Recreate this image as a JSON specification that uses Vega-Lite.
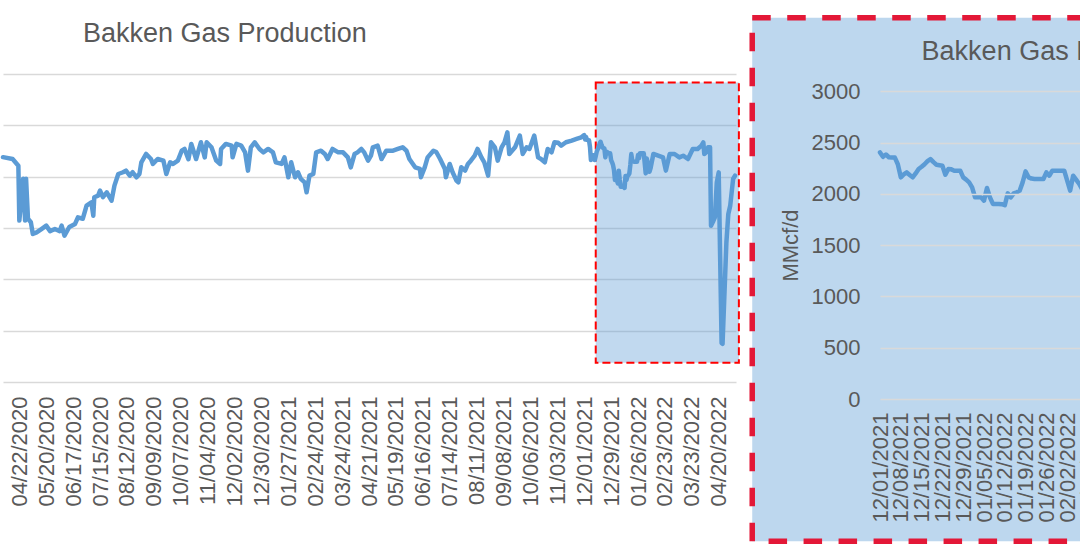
{
  "$schema": "https://vega.github.io/schema/vega-lite/v6.json",
  "background": "white",
  "padding": {"left": 0, "top": 14, "right": 0, "bottom": 0},
  "spacing": 9,
  "config": {
    "font": "Liberation Sans",
    "view": {"stroke": null},
    "axis": {"labelColor": "#595959", "titleColor": "#595959", "labelFont": "Liberation Sans", "titleFont": "Liberation Sans"},
    "axisX": {"orient": "bottom", "title": null, "grid": false, "domain": false, "ticks": false, "tickSize": 0, "labelAngle": 270, "labelAlign": "right", "labelBaseline": "middle", "labelFontSize": 22, "labelOverlap": false, "labelFlush": false, "labelBound": false, "format": "%m/%d/%Y"},
    "title": {"color": "#595959", "fontSize": 27, "fontWeight": "normal", "font": "Liberation Sans", "anchor": "start", "frame": "group"}
  },
  "datasets": {
    "gas": [
      {"date": "2020-04-05", "v": 2190}, {"date": "2020-04-15", "v": 2172}, {"date": "2020-04-21", "v": 2107},
      {"date": "2020-04-22", "v": 1572}, {"date": "2020-04-26", "v": 1980}, {"date": "2020-04-28", "v": 1572},
      {"date": "2020-04-29", "v": 1980}, {"date": "2020-05-01", "v": 1590}, {"date": "2020-05-04", "v": 1556},
      {"date": "2020-05-06", "v": 1442}, {"date": "2020-05-10", "v": 1458}, {"date": "2020-05-15", "v": 1490},
      {"date": "2020-05-20", "v": 1523}, {"date": "2020-05-24", "v": 1470}, {"date": "2020-05-29", "v": 1490},
      {"date": "2020-06-03", "v": 1470}, {"date": "2020-06-05", "v": 1523}, {"date": "2020-06-08", "v": 1426},
      {"date": "2020-06-13", "v": 1510}, {"date": "2020-06-19", "v": 1540}, {"date": "2020-06-22", "v": 1604},
      {"date": "2020-06-27", "v": 1590}, {"date": "2020-07-01", "v": 1718}, {"date": "2020-07-06", "v": 1750},
      {"date": "2020-07-08", "v": 1620}, {"date": "2020-07-09", "v": 1799}, {"date": "2020-07-13", "v": 1815},
      {"date": "2020-07-15", "v": 1864}, {"date": "2020-07-18", "v": 1800}, {"date": "2020-07-22", "v": 1848},
      {"date": "2020-07-27", "v": 1766}, {"date": "2020-07-30", "v": 1913}, {"date": "2020-08-03", "v": 2026},
      {"date": "2020-08-08", "v": 2043}, {"date": "2020-08-11", "v": 2059}, {"date": "2020-08-15", "v": 2010},
      {"date": "2020-08-18", "v": 2043}, {"date": "2020-08-22", "v": 1994}, {"date": "2020-08-25", "v": 2026},
      {"date": "2020-08-27", "v": 2140}, {"date": "2020-09-01", "v": 2221}, {"date": "2020-09-06", "v": 2172},
      {"date": "2020-09-08", "v": 2124}, {"date": "2020-09-13", "v": 2172}, {"date": "2020-09-19", "v": 2156},
      {"date": "2020-09-22", "v": 2026}, {"date": "2020-09-26", "v": 2140}, {"date": "2020-09-29", "v": 2124},
      {"date": "2020-10-04", "v": 2156}, {"date": "2020-10-08", "v": 2253}, {"date": "2020-10-11", "v": 2270},
      {"date": "2020-10-15", "v": 2170}, {"date": "2020-10-18", "v": 2319}, {"date": "2020-10-23", "v": 2172},
      {"date": "2020-10-28", "v": 2335}, {"date": "2020-11-01", "v": 2188}, {"date": "2020-11-03", "v": 2335},
      {"date": "2020-11-08", "v": 2286}, {"date": "2020-11-13", "v": 2156}, {"date": "2020-11-17", "v": 2124},
      {"date": "2020-11-18", "v": 2270}, {"date": "2020-11-23", "v": 2319}, {"date": "2020-11-29", "v": 2302},
      {"date": "2020-11-30", "v": 2188}, {"date": "2020-12-04", "v": 2319}, {"date": "2020-12-09", "v": 2302},
      {"date": "2020-12-13", "v": 2237}, {"date": "2020-12-16", "v": 2059}, {"date": "2020-12-19", "v": 2286},
      {"date": "2020-12-23", "v": 2335}, {"date": "2020-12-28", "v": 2270}, {"date": "2021-01-01", "v": 2237},
      {"date": "2021-01-06", "v": 2270}, {"date": "2021-01-11", "v": 2237}, {"date": "2021-01-14", "v": 2140},
      {"date": "2021-01-20", "v": 2124}, {"date": "2021-01-23", "v": 2188}, {"date": "2021-01-27", "v": 1994},
      {"date": "2021-01-30", "v": 2140}, {"date": "2021-02-03", "v": 1994}, {"date": "2021-02-06", "v": 2043},
      {"date": "2021-02-09", "v": 1978}, {"date": "2021-02-13", "v": 1945}, {"date": "2021-02-15", "v": 1848},
      {"date": "2021-02-18", "v": 2010}, {"date": "2021-02-22", "v": 2026}, {"date": "2021-02-25", "v": 2237},
      {"date": "2021-03-02", "v": 2253}, {"date": "2021-03-06", "v": 2221}, {"date": "2021-03-09", "v": 2172},
      {"date": "2021-03-14", "v": 2270}, {"date": "2021-03-20", "v": 2237}, {"date": "2021-03-25", "v": 2237},
      {"date": "2021-03-30", "v": 2188}, {"date": "2021-04-02", "v": 2091}, {"date": "2021-04-06", "v": 2221},
      {"date": "2021-04-09", "v": 2237}, {"date": "2021-04-13", "v": 2270}, {"date": "2021-04-16", "v": 2237},
      {"date": "2021-04-20", "v": 2156}, {"date": "2021-04-23", "v": 2204}, {"date": "2021-04-25", "v": 2286},
      {"date": "2021-04-30", "v": 2302}, {"date": "2021-05-04", "v": 2172}, {"date": "2021-05-09", "v": 2253},
      {"date": "2021-05-16", "v": 2253}, {"date": "2021-05-21", "v": 2270}, {"date": "2021-05-26", "v": 2286},
      {"date": "2021-05-30", "v": 2253}, {"date": "2021-06-02", "v": 2172}, {"date": "2021-06-08", "v": 2091},
      {"date": "2021-06-13", "v": 2075}, {"date": "2021-06-14", "v": 1994}, {"date": "2021-06-18", "v": 2091},
      {"date": "2021-06-21", "v": 2188}, {"date": "2021-06-27", "v": 2253}, {"date": "2021-06-30", "v": 2240},
      {"date": "2021-07-04", "v": 2172}, {"date": "2021-07-09", "v": 2075}, {"date": "2021-07-10", "v": 1994},
      {"date": "2021-07-14", "v": 2124}, {"date": "2021-07-17", "v": 2043}, {"date": "2021-07-21", "v": 1962},
      {"date": "2021-07-23", "v": 1945}, {"date": "2021-07-26", "v": 2091}, {"date": "2021-07-30", "v": 2059},
      {"date": "2021-08-02", "v": 2124}, {"date": "2021-08-05", "v": 2156}, {"date": "2021-08-09", "v": 2204},
      {"date": "2021-08-12", "v": 2270}, {"date": "2021-08-16", "v": 2188}, {"date": "2021-08-19", "v": 2140},
      {"date": "2021-08-23", "v": 2010}, {"date": "2021-08-26", "v": 2335}, {"date": "2021-08-30", "v": 2286},
      {"date": "2021-09-02", "v": 2156}, {"date": "2021-09-06", "v": 2286}, {"date": "2021-09-09", "v": 2335},
      {"date": "2021-09-12", "v": 2432}, {"date": "2021-09-14", "v": 2221}, {"date": "2021-09-20", "v": 2286},
      {"date": "2021-09-25", "v": 2400}, {"date": "2021-09-28", "v": 2221}, {"date": "2021-10-02", "v": 2286},
      {"date": "2021-10-05", "v": 2270}, {"date": "2021-10-10", "v": 2400}, {"date": "2021-10-14", "v": 2188},
      {"date": "2021-10-17", "v": 2172}, {"date": "2021-10-21", "v": 2140}, {"date": "2021-10-24", "v": 2270},
      {"date": "2021-10-28", "v": 2237}, {"date": "2021-10-31", "v": 2335}, {"date": "2021-11-04", "v": 2330},
      {"date": "2021-11-07", "v": 2302}, {"date": "2021-11-12", "v": 2335}, {"date": "2021-11-18", "v": 2351},
      {"date": "2021-11-23", "v": 2367}, {"date": "2021-11-28", "v": 2383},
      {"date": "2021-12-01", "v": 2405}, {"date": "2021-12-02", "v": 2362}, {"date": "2021-12-03", "v": 2385},
      {"date": "2021-12-04", "v": 2358}, {"date": "2021-12-05", "v": 2355}, {"date": "2021-12-06", "v": 2355},
      {"date": "2021-12-07", "v": 2290}, {"date": "2021-12-08", "v": 2162}, {"date": "2021-12-09", "v": 2190},
      {"date": "2021-12-10", "v": 2210}, {"date": "2021-12-11", "v": 2185}, {"date": "2021-12-12", "v": 2162},
      {"date": "2021-12-13", "v": 2200}, {"date": "2021-12-14", "v": 2243}, {"date": "2021-12-15", "v": 2265},
      {"date": "2021-12-16", "v": 2290}, {"date": "2021-12-17", "v": 2320}, {"date": "2021-12-18", "v": 2340},
      {"date": "2021-12-19", "v": 2310}, {"date": "2021-12-20", "v": 2285}, {"date": "2021-12-21", "v": 2280},
      {"date": "2021-12-22", "v": 2275}, {"date": "2021-12-23", "v": 2188}, {"date": "2021-12-24", "v": 2243},
      {"date": "2021-12-25", "v": 2240}, {"date": "2021-12-26", "v": 2227}, {"date": "2021-12-27", "v": 2227},
      {"date": "2021-12-28", "v": 2227}, {"date": "2021-12-29", "v": 2162}, {"date": "2021-12-30", "v": 2140},
      {"date": "2021-12-31", "v": 2113}, {"date": "2022-01-01", "v": 2065}, {"date": "2022-01-02", "v": 1967},
      {"date": "2022-01-03", "v": 1967}, {"date": "2022-01-04", "v": 1967}, {"date": "2022-01-05", "v": 1935},
      {"date": "2022-01-06", "v": 2058}, {"date": "2022-01-07", "v": 1967}, {"date": "2022-01-08", "v": 1903},
      {"date": "2022-01-09", "v": 1903}, {"date": "2022-01-10", "v": 1903}, {"date": "2022-01-11", "v": 1900},
      {"date": "2022-01-12", "v": 1890}, {"date": "2022-01-13", "v": 2006}, {"date": "2022-01-14", "v": 1967},
      {"date": "2022-01-15", "v": 2006}, {"date": "2022-01-16", "v": 2015}, {"date": "2022-01-17", "v": 2032},
      {"date": "2022-01-18", "v": 2113}, {"date": "2022-01-19", "v": 2220}, {"date": "2022-01-20", "v": 2162},
      {"date": "2022-01-21", "v": 2150}, {"date": "2022-01-22", "v": 2146}, {"date": "2022-01-23", "v": 2146},
      {"date": "2022-01-24", "v": 2146}, {"date": "2022-01-25", "v": 2146}, {"date": "2022-01-26", "v": 2210},
      {"date": "2022-01-27", "v": 2178}, {"date": "2022-01-28", "v": 2227}, {"date": "2022-01-29", "v": 2227},
      {"date": "2022-01-30", "v": 2227}, {"date": "2022-01-31", "v": 2227}, {"date": "2022-02-01", "v": 2227},
      {"date": "2022-02-02", "v": 2130}, {"date": "2022-02-03", "v": 2032}, {"date": "2022-02-04", "v": 2178},
      {"date": "2022-02-05", "v": 2140}, {"date": "2022-02-06", "v": 2100}, {"date": "2022-02-07", "v": 2048},
      {"date": "2022-02-08", "v": 2080},
      {"date": "2022-02-11", "v": 2221}, {"date": "2022-02-16", "v": 2204}, {"date": "2022-02-21", "v": 2188},
      {"date": "2022-02-24", "v": 2059}, {"date": "2022-02-28", "v": 2221}, {"date": "2022-03-05", "v": 2221},
      {"date": "2022-03-10", "v": 2188}, {"date": "2022-03-14", "v": 2204}, {"date": "2022-03-19", "v": 2172},
      {"date": "2022-03-24", "v": 2270}, {"date": "2022-03-29", "v": 2270}, {"date": "2022-04-02", "v": 2302},
      {"date": "2022-04-04", "v": 2334}, {"date": "2022-04-05", "v": 2221}, {"date": "2022-04-07", "v": 2237},
      {"date": "2022-04-09", "v": 2286}, {"date": "2022-04-11", "v": 2286}, {"date": "2022-04-12", "v": 1523},
      {"date": "2022-04-14", "v": 1560}, {"date": "2022-04-16", "v": 1604}, {"date": "2022-04-18", "v": 1945},
      {"date": "2022-04-20", "v": 2042}, {"date": "2022-04-23", "v": 380}, {"date": "2022-04-24", "v": 372},
      {"date": "2022-04-28", "v": 1361}, {"date": "2022-04-30", "v": 1637}, {"date": "2022-05-02", "v": 1718},
      {"date": "2022-05-05", "v": 1978}, {"date": "2022-05-07", "v": 2010}
    ]
  },
  "hconcat": [
    {
      "width": 733,
      "height": 308,
      "title": {"text": "Bakken Gas Production", "dx": 80, "offset": 26},
      "data": {"name": "gas"},
      "resolve": {"axis": {"x": "independent"}},
      "layer": [
        {
          "data": {"values": [{}]},
          "mark": {"type": "rect", "clip": false, "fill": "#5b9bd5", "fillOpacity": 0.38, "stroke": "#ff0000", "strokeWidth": 2, "strokeDash": [8, 4]},
          "encoding": {
            "x": {
              "datum": {"year": 2021, "month": 12, "date": 13, "utc": true}, "type": "temporal",
              "axis": {
                "orient": "bottom", "labelPadding": 14,
                "values": [
                  {"year": 2020, "month": 5, "date": 20, "utc": true}, {"year": 2020, "month": 7, "date": 15, "utc": true},
                  {"year": 2020, "month": 9, "date": 9, "utc": true}, {"year": 2020, "month": 11, "date": 4, "utc": true},
                  {"year": 2020, "month": 12, "date": 30, "utc": true}, {"year": 2021, "month": 2, "date": 24, "utc": true},
                  {"year": 2021, "month": 4, "date": 21, "utc": true}, {"year": 2021, "month": 6, "date": 16, "utc": true},
                  {"year": 2021, "month": 8, "date": 11, "utc": true}, {"year": 2021, "month": 10, "date": 6, "utc": true},
                  {"year": 2021, "month": 12, "date": 1, "utc": true}, {"year": 2022, "month": 1, "date": 26, "utc": true},
                  {"year": 2022, "month": 3, "date": 23, "utc": true}
                ]
              }
            },
            "x2": {"datum": {"year": 2022, "month": 5, "date": 11, "utc": true}},
            "y": {"datum": 187, "type": "quantitative"},
            "y2": {"datum": 2918}
          }
        },
        {
          "mark": {"type": "line", "color": "#5b9bd5", "strokeWidth": 4.5, "strokeJoin": "round", "strokeCap": "round"},
          "encoding": {
            "x": {
              "field": "date", "type": "temporal",
              "scale": {"type": "utc", "domain": [{"year": 2020, "month": 4, "date": 5, "utc": true}, {"year": 2022, "month": 5, "date": 8, "utc": true}]},
              "axis": {
                "orient": "bottom", "labelPadding": 14,
                "values": [
                  {"year": 2020, "month": 4, "date": 22, "utc": true}, {"year": 2020, "month": 6, "date": 17, "utc": true},
                  {"year": 2020, "month": 8, "date": 12, "utc": true}, {"year": 2020, "month": 10, "date": 7, "utc": true},
                  {"year": 2020, "month": 12, "date": 2, "utc": true}, {"year": 2021, "month": 1, "date": 27, "utc": true},
                  {"year": 2021, "month": 3, "date": 24, "utc": true}, {"year": 2021, "month": 5, "date": 19, "utc": true},
                  {"year": 2021, "month": 7, "date": 14, "utc": true}, {"year": 2021, "month": 9, "date": 8, "utc": true},
                  {"year": 2021, "month": 11, "date": 3, "utc": true}, {"year": 2021, "month": 12, "date": 29, "utc": true},
                  {"year": 2022, "month": 2, "date": 23, "utc": true}, {"year": 2022, "month": 4, "date": 20, "utc": true}
                ]
              }
            },
            "y": {
              "field": "v", "type": "quantitative",
              "scale": {"domain": [0, 3000], "nice": false},
              "axis": {
                "title": null, "labels": false, "ticks": false, "domain": false, "grid": true,
                "gridColor": "#d9d9d9", "gridWidth": 1.5,
                "values": [0, 500, 1000, 1500, 2000, 2500, 3000]
              }
            }
          }
        }
      ]
    },
    {
      "width": 208,
      "height": 325,
      "data": {"name": "gas"},
      "resolve": {"axis": {"x": "independent"}},
      "layer": [
        {
          "data": {"values": [{}]},
          "mark": {"type": "rect", "clip": false, "fill": "#bdd7ee", "stroke": "#e31837", "strokeWidth": 5.5, "strokeDash": [18.5, 16.5]},
          "encoding": {
            "x": {
              "datum": {"year": 2021, "month": 10, "date": 19, "utc": true}, "type": "temporal",
              "axis": {
                "orient": "bottom", "labelPadding": 13, "zindex": 1,
                "values": [
                  {"year": 2021, "month": 12, "date": 8, "utc": true}, {"year": 2021, "month": 12, "date": 22, "utc": true},
                  {"year": 2022, "month": 1, "date": 5, "utc": true}, {"year": 2022, "month": 1, "date": 19, "utc": true},
                  {"year": 2022, "month": 2, "date": 2, "utc": true}
                ]
              }
            },
            "x2": {"datum": {"year": 2022, "month": 2, "date": 14, "utc": true}},
            "y": {"datum": -1388, "type": "quantitative"},
            "y2": {"datum": 3719}
          }
        },
        {
          "data": {"values": [{}]},
          "mark": {"type": "text", "clip": false, "text": "Bakken Gas Production", "align": "left", "baseline": "alphabetic", "fontSize": 27, "color": "#595959", "font": "Liberation Sans"},
          "encoding": {
            "x": {"datum": {"year": 2021, "month": 12, "date": 15, "utc": true}, "type": "temporal", "axis": null},
            "y": {"datum": 3307, "type": "quantitative"}
          }
        },
        {
          "transform": [{"filter": "time(datum.date) >= utc(2021, 11, 1) && time(datum.date) <= utc(2022, 1, 9)"}],
          "mark": {"type": "line", "color": "#5b9bd5", "strokeWidth": 4.5, "strokeJoin": "round", "strokeCap": "round"},
          "encoding": {
            "x": {
              "field": "date", "type": "temporal",
              "scale": {"type": "utc", "domain": [{"year": 2021, "month": 12, "date": 1, "utc": true}, {"year": 2022, "month": 2, "date": 9, "utc": true}]},
              "axis": {
                "orient": "bottom", "labelPadding": 13, "zindex": 1,
                "values": [
                  {"year": 2021, "month": 12, "date": 1, "utc": true}, {"year": 2021, "month": 12, "date": 15, "utc": true},
                  {"year": 2021, "month": 12, "date": 29, "utc": true}, {"year": 2022, "month": 1, "date": 12, "utc": true},
                  {"year": 2022, "month": 1, "date": 26, "utc": true}, {"year": 2022, "month": 2, "date": 9, "utc": true}
                ]
              }
            },
            "y": {
              "field": "v", "type": "quantitative",
              "scale": {"domain": [0, 3170], "nice": false},
              "axis": {
                "title": "MMcf/d", "titleFontSize": 22, "titleFontWeight": "normal", "titlePadding": 9, "titleY": 171,
                "labelFontSize": 22, "labelPadding": 20, "ticks": false, "tickSize": 0, "domain": false, "format": "d",
                "grid": true, "gridColor": "#d9d9d9", "gridWidth": 1.5, "zindex": 1,
                "values": [0, 500, 1000, 1500, 2000, 2500, 3000]
              }
            }
          }
        }
      ]
    }
  ]
}
